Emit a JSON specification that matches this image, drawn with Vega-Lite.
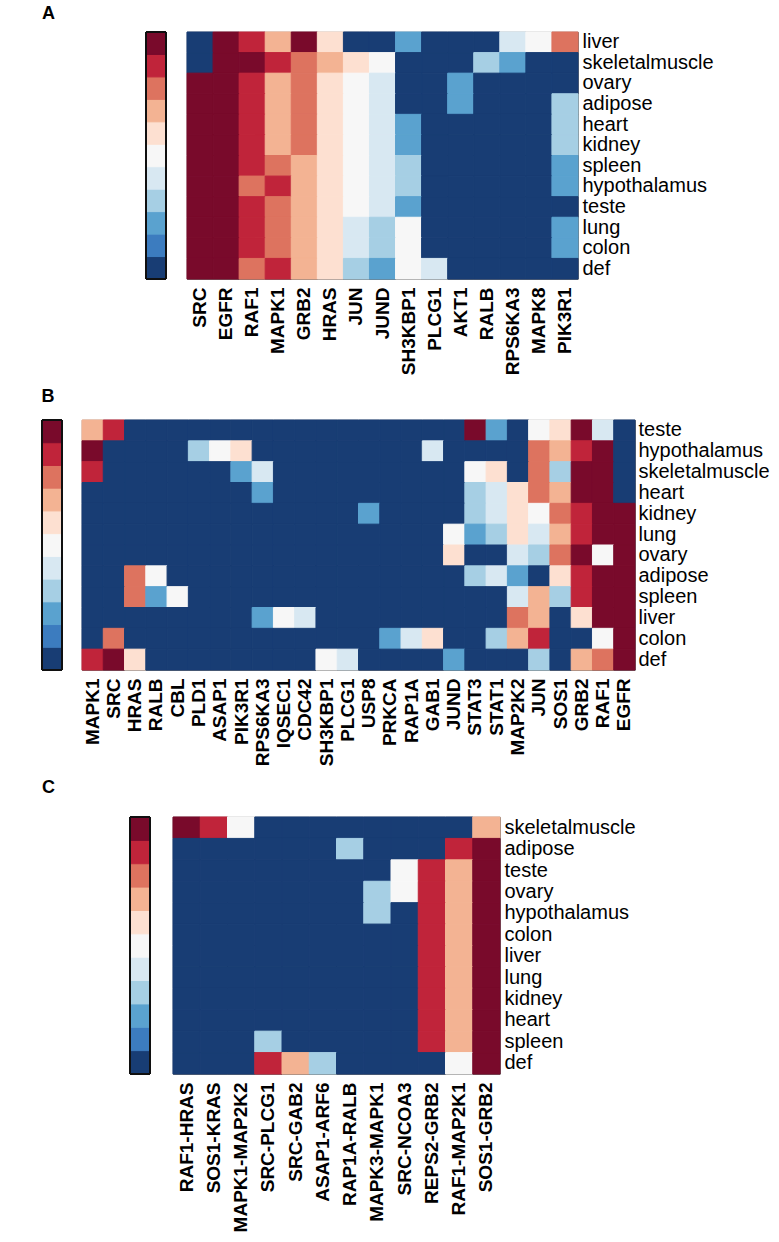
{
  "$schema": "https://vega.github.io/schema/vega-lite/v6.json",
  "padding": {"left": 41, "top": 5, "right": 0, "bottom": 0},
  "background": "white",
  "config": {
    "font": "Liberation Sans",
    "view": {"stroke": null},
    "axisX": {"orient": "bottom", "labelAngle": -90, "labelFontWeight": "bold", "labelFontSize": 19, "labelColor": "#000", "ticks": false, "domain": false, "labelPadding": 8, "title": null, "labelLimit": 300, "labelOverlap": false},
    "axisY": {"orient": "right", "labelFontSize": 20, "labelColor": "#000", "ticks": false, "domain": false, "labelPadding": 4, "title": null, "labelLimit": 300, "labelOverlap": false},
    "title": {"fontSize": 18, "fontWeight": "bold", "color": "#000", "anchor": "start"}
  },
  "datasets": {
    "bar": [{"v":0},{"v":1},{"v":2},{"v":3},{"v":4},{"v":5},{"v":6},{"v":7},{"v":8},{"v":9},{"v":10}],
    "a": [
{"t":"liver","g":"SRC","v":0},{"t":"liver","g":"EGFR","v":10},{"t":"liver","g":"RAF1","v":9},{"t":"liver","g":"MAPK1","v":7},{"t":"liver","g":"GRB2","v":10},{"t":"liver","g":"HRAS","v":6},{"t":"liver","g":"JUN","v":0},{"t":"liver","g":"JUND","v":0},{"t":"liver","g":"SH3KBP1","v":2},{"t":"liver","g":"PLCG1","v":0},{"t":"liver","g":"AKT1","v":0},{"t":"liver","g":"RALB","v":0},{"t":"liver","g":"RPS6KA3","v":4},{"t":"liver","g":"MAPK8","v":5},{"t":"liver","g":"PIK3R1","v":8},
{"t":"skeletalmuscle","g":"SRC","v":0},{"t":"skeletalmuscle","g":"EGFR","v":10},{"t":"skeletalmuscle","g":"RAF1","v":10},{"t":"skeletalmuscle","g":"MAPK1","v":9},{"t":"skeletalmuscle","g":"GRB2","v":8},{"t":"skeletalmuscle","g":"HRAS","v":7},{"t":"skeletalmuscle","g":"JUN","v":6},{"t":"skeletalmuscle","g":"JUND","v":5},{"t":"skeletalmuscle","g":"SH3KBP1","v":0},{"t":"skeletalmuscle","g":"PLCG1","v":0},{"t":"skeletalmuscle","g":"AKT1","v":0},{"t":"skeletalmuscle","g":"RALB","v":3},{"t":"skeletalmuscle","g":"RPS6KA3","v":2},{"t":"skeletalmuscle","g":"MAPK8","v":0},{"t":"skeletalmuscle","g":"PIK3R1","v":0},
{"t":"ovary","g":"SRC","v":10},{"t":"ovary","g":"EGFR","v":10},{"t":"ovary","g":"RAF1","v":9},{"t":"ovary","g":"MAPK1","v":7},{"t":"ovary","g":"GRB2","v":8},{"t":"ovary","g":"HRAS","v":6},{"t":"ovary","g":"JUN","v":5},{"t":"ovary","g":"JUND","v":4},{"t":"ovary","g":"SH3KBP1","v":0},{"t":"ovary","g":"PLCG1","v":0},{"t":"ovary","g":"AKT1","v":2},{"t":"ovary","g":"RALB","v":0},{"t":"ovary","g":"RPS6KA3","v":0},{"t":"ovary","g":"MAPK8","v":0},{"t":"ovary","g":"PIK3R1","v":0},
{"t":"adipose","g":"SRC","v":10},{"t":"adipose","g":"EGFR","v":10},{"t":"adipose","g":"RAF1","v":9},{"t":"adipose","g":"MAPK1","v":7},{"t":"adipose","g":"GRB2","v":8},{"t":"adipose","g":"HRAS","v":6},{"t":"adipose","g":"JUN","v":5},{"t":"adipose","g":"JUND","v":4},{"t":"adipose","g":"SH3KBP1","v":0},{"t":"adipose","g":"PLCG1","v":0},{"t":"adipose","g":"AKT1","v":2},{"t":"adipose","g":"RALB","v":0},{"t":"adipose","g":"RPS6KA3","v":0},{"t":"adipose","g":"MAPK8","v":0},{"t":"adipose","g":"PIK3R1","v":3},
{"t":"heart","g":"SRC","v":10},{"t":"heart","g":"EGFR","v":10},{"t":"heart","g":"RAF1","v":9},{"t":"heart","g":"MAPK1","v":7},{"t":"heart","g":"GRB2","v":8},{"t":"heart","g":"HRAS","v":6},{"t":"heart","g":"JUN","v":5},{"t":"heart","g":"JUND","v":4},{"t":"heart","g":"SH3KBP1","v":2},{"t":"heart","g":"PLCG1","v":0},{"t":"heart","g":"AKT1","v":0},{"t":"heart","g":"RALB","v":0},{"t":"heart","g":"RPS6KA3","v":0},{"t":"heart","g":"MAPK8","v":0},{"t":"heart","g":"PIK3R1","v":3},
{"t":"kidney","g":"SRC","v":10},{"t":"kidney","g":"EGFR","v":10},{"t":"kidney","g":"RAF1","v":9},{"t":"kidney","g":"MAPK1","v":7},{"t":"kidney","g":"GRB2","v":8},{"t":"kidney","g":"HRAS","v":6},{"t":"kidney","g":"JUN","v":5},{"t":"kidney","g":"JUND","v":4},{"t":"kidney","g":"SH3KBP1","v":2},{"t":"kidney","g":"PLCG1","v":0},{"t":"kidney","g":"AKT1","v":0},{"t":"kidney","g":"RALB","v":0},{"t":"kidney","g":"RPS6KA3","v":0},{"t":"kidney","g":"MAPK8","v":0},{"t":"kidney","g":"PIK3R1","v":3},
{"t":"spleen","g":"SRC","v":10},{"t":"spleen","g":"EGFR","v":10},{"t":"spleen","g":"RAF1","v":9},{"t":"spleen","g":"MAPK1","v":8},{"t":"spleen","g":"GRB2","v":7},{"t":"spleen","g":"HRAS","v":6},{"t":"spleen","g":"JUN","v":5},{"t":"spleen","g":"JUND","v":4},{"t":"spleen","g":"SH3KBP1","v":3},{"t":"spleen","g":"PLCG1","v":0},{"t":"spleen","g":"AKT1","v":0},{"t":"spleen","g":"RALB","v":0},{"t":"spleen","g":"RPS6KA3","v":0},{"t":"spleen","g":"MAPK8","v":0},{"t":"spleen","g":"PIK3R1","v":2},
{"t":"hypothalamus","g":"SRC","v":10},{"t":"hypothalamus","g":"EGFR","v":10},{"t":"hypothalamus","g":"RAF1","v":8},{"t":"hypothalamus","g":"MAPK1","v":9},{"t":"hypothalamus","g":"GRB2","v":7},{"t":"hypothalamus","g":"HRAS","v":6},{"t":"hypothalamus","g":"JUN","v":5},{"t":"hypothalamus","g":"JUND","v":4},{"t":"hypothalamus","g":"SH3KBP1","v":3},{"t":"hypothalamus","g":"PLCG1","v":0},{"t":"hypothalamus","g":"AKT1","v":0},{"t":"hypothalamus","g":"RALB","v":0},{"t":"hypothalamus","g":"RPS6KA3","v":0},{"t":"hypothalamus","g":"MAPK8","v":0},{"t":"hypothalamus","g":"PIK3R1","v":2},
{"t":"teste","g":"SRC","v":10},{"t":"teste","g":"EGFR","v":10},{"t":"teste","g":"RAF1","v":9},{"t":"teste","g":"MAPK1","v":8},{"t":"teste","g":"GRB2","v":7},{"t":"teste","g":"HRAS","v":6},{"t":"teste","g":"JUN","v":5},{"t":"teste","g":"JUND","v":4},{"t":"teste","g":"SH3KBP1","v":2},{"t":"teste","g":"PLCG1","v":0},{"t":"teste","g":"AKT1","v":0},{"t":"teste","g":"RALB","v":0},{"t":"teste","g":"RPS6KA3","v":0},{"t":"teste","g":"MAPK8","v":0},{"t":"teste","g":"PIK3R1","v":0},
{"t":"lung","g":"SRC","v":10},{"t":"lung","g":"EGFR","v":10},{"t":"lung","g":"RAF1","v":9},{"t":"lung","g":"MAPK1","v":8},{"t":"lung","g":"GRB2","v":7},{"t":"lung","g":"HRAS","v":6},{"t":"lung","g":"JUN","v":4},{"t":"lung","g":"JUND","v":3},{"t":"lung","g":"SH3KBP1","v":5},{"t":"lung","g":"PLCG1","v":0},{"t":"lung","g":"AKT1","v":0},{"t":"lung","g":"RALB","v":0},{"t":"lung","g":"RPS6KA3","v":0},{"t":"lung","g":"MAPK8","v":0},{"t":"lung","g":"PIK3R1","v":2},
{"t":"colon","g":"SRC","v":10},{"t":"colon","g":"EGFR","v":10},{"t":"colon","g":"RAF1","v":9},{"t":"colon","g":"MAPK1","v":8},{"t":"colon","g":"GRB2","v":7},{"t":"colon","g":"HRAS","v":6},{"t":"colon","g":"JUN","v":4},{"t":"colon","g":"JUND","v":3},{"t":"colon","g":"SH3KBP1","v":5},{"t":"colon","g":"PLCG1","v":0},{"t":"colon","g":"AKT1","v":0},{"t":"colon","g":"RALB","v":0},{"t":"colon","g":"RPS6KA3","v":0},{"t":"colon","g":"MAPK8","v":0},{"t":"colon","g":"PIK3R1","v":2},
{"t":"def","g":"SRC","v":10},{"t":"def","g":"EGFR","v":10},{"t":"def","g":"RAF1","v":8},{"t":"def","g":"MAPK1","v":9},{"t":"def","g":"GRB2","v":7},{"t":"def","g":"HRAS","v":6},{"t":"def","g":"JUN","v":3},{"t":"def","g":"JUND","v":2},{"t":"def","g":"SH3KBP1","v":5},{"t":"def","g":"PLCG1","v":4},{"t":"def","g":"AKT1","v":0},{"t":"def","g":"RALB","v":0},{"t":"def","g":"RPS6KA3","v":0},{"t":"def","g":"MAPK8","v":0},{"t":"def","g":"PIK3R1","v":0}
    ],
    "b": [
{"t":"teste","g":"MAPK1","v":7},{"t":"teste","g":"SRC","v":9},{"t":"teste","g":"HRAS","v":0},{"t":"teste","g":"RALB","v":0},{"t":"teste","g":"CBL","v":0},{"t":"teste","g":"PLD1","v":0},{"t":"teste","g":"ASAP1","v":0},{"t":"teste","g":"PIK3R1","v":0},{"t":"teste","g":"RPS6KA3","v":0},{"t":"teste","g":"IQSEC1","v":0},{"t":"teste","g":"CDC42","v":0},{"t":"teste","g":"SH3KBP1","v":0},{"t":"teste","g":"PLCG1","v":0},{"t":"teste","g":"USP8","v":0},{"t":"teste","g":"PRKCA","v":0},{"t":"teste","g":"RAP1A","v":0},{"t":"teste","g":"GAB1","v":0},{"t":"teste","g":"JUND","v":0},{"t":"teste","g":"STAT3","v":10},{"t":"teste","g":"STAT1","v":2},{"t":"teste","g":"MAP2K2","v":0},{"t":"teste","g":"JUN","v":5},{"t":"teste","g":"SOS1","v":6},{"t":"teste","g":"GRB2","v":10},{"t":"teste","g":"RAF1","v":4},{"t":"teste","g":"EGFR","v":0},
{"t":"hypothalamus","g":"MAPK1","v":10},{"t":"hypothalamus","g":"SRC","v":0},{"t":"hypothalamus","g":"HRAS","v":0},{"t":"hypothalamus","g":"RALB","v":0},{"t":"hypothalamus","g":"CBL","v":0},{"t":"hypothalamus","g":"PLD1","v":3},{"t":"hypothalamus","g":"ASAP1","v":5},{"t":"hypothalamus","g":"PIK3R1","v":6},{"t":"hypothalamus","g":"RPS6KA3","v":0},{"t":"hypothalamus","g":"IQSEC1","v":0},{"t":"hypothalamus","g":"CDC42","v":0},{"t":"hypothalamus","g":"SH3KBP1","v":0},{"t":"hypothalamus","g":"PLCG1","v":0},{"t":"hypothalamus","g":"USP8","v":0},{"t":"hypothalamus","g":"PRKCA","v":0},{"t":"hypothalamus","g":"RAP1A","v":0},{"t":"hypothalamus","g":"GAB1","v":4},{"t":"hypothalamus","g":"JUND","v":0},{"t":"hypothalamus","g":"STAT3","v":0},{"t":"hypothalamus","g":"STAT1","v":0},{"t":"hypothalamus","g":"MAP2K2","v":0},{"t":"hypothalamus","g":"JUN","v":8},{"t":"hypothalamus","g":"SOS1","v":7},{"t":"hypothalamus","g":"GRB2","v":9},{"t":"hypothalamus","g":"RAF1","v":10},{"t":"hypothalamus","g":"EGFR","v":0},
{"t":"skeletalmuscle","g":"MAPK1","v":9},{"t":"skeletalmuscle","g":"SRC","v":0},{"t":"skeletalmuscle","g":"HRAS","v":0},{"t":"skeletalmuscle","g":"RALB","v":0},{"t":"skeletalmuscle","g":"CBL","v":0},{"t":"skeletalmuscle","g":"PLD1","v":0},{"t":"skeletalmuscle","g":"ASAP1","v":0},{"t":"skeletalmuscle","g":"PIK3R1","v":2},{"t":"skeletalmuscle","g":"RPS6KA3","v":4},{"t":"skeletalmuscle","g":"IQSEC1","v":0},{"t":"skeletalmuscle","g":"CDC42","v":0},{"t":"skeletalmuscle","g":"SH3KBP1","v":0},{"t":"skeletalmuscle","g":"PLCG1","v":0},{"t":"skeletalmuscle","g":"USP8","v":0},{"t":"skeletalmuscle","g":"PRKCA","v":0},{"t":"skeletalmuscle","g":"RAP1A","v":0},{"t":"skeletalmuscle","g":"GAB1","v":0},{"t":"skeletalmuscle","g":"JUND","v":0},{"t":"skeletalmuscle","g":"STAT3","v":5},{"t":"skeletalmuscle","g":"STAT1","v":6},{"t":"skeletalmuscle","g":"MAP2K2","v":0},{"t":"skeletalmuscle","g":"JUN","v":8},{"t":"skeletalmuscle","g":"SOS1","v":3},{"t":"skeletalmuscle","g":"GRB2","v":10},{"t":"skeletalmuscle","g":"RAF1","v":10},{"t":"skeletalmuscle","g":"EGFR","v":0},
{"t":"heart","g":"MAPK1","v":0},{"t":"heart","g":"SRC","v":0},{"t":"heart","g":"HRAS","v":0},{"t":"heart","g":"RALB","v":0},{"t":"heart","g":"CBL","v":0},{"t":"heart","g":"PLD1","v":0},{"t":"heart","g":"ASAP1","v":0},{"t":"heart","g":"PIK3R1","v":0},{"t":"heart","g":"RPS6KA3","v":2},{"t":"heart","g":"IQSEC1","v":0},{"t":"heart","g":"CDC42","v":0},{"t":"heart","g":"SH3KBP1","v":0},{"t":"heart","g":"PLCG1","v":0},{"t":"heart","g":"USP8","v":0},{"t":"heart","g":"PRKCA","v":0},{"t":"heart","g":"RAP1A","v":0},{"t":"heart","g":"GAB1","v":0},{"t":"heart","g":"JUND","v":0},{"t":"heart","g":"STAT3","v":3},{"t":"heart","g":"STAT1","v":4},{"t":"heart","g":"MAP2K2","v":6},{"t":"heart","g":"JUN","v":8},{"t":"heart","g":"SOS1","v":7},{"t":"heart","g":"GRB2","v":10},{"t":"heart","g":"RAF1","v":10},{"t":"heart","g":"EGFR","v":0},
{"t":"kidney","g":"MAPK1","v":0},{"t":"kidney","g":"SRC","v":0},{"t":"kidney","g":"HRAS","v":0},{"t":"kidney","g":"RALB","v":0},{"t":"kidney","g":"CBL","v":0},{"t":"kidney","g":"PLD1","v":0},{"t":"kidney","g":"ASAP1","v":0},{"t":"kidney","g":"PIK3R1","v":0},{"t":"kidney","g":"RPS6KA3","v":0},{"t":"kidney","g":"IQSEC1","v":0},{"t":"kidney","g":"CDC42","v":0},{"t":"kidney","g":"SH3KBP1","v":0},{"t":"kidney","g":"PLCG1","v":0},{"t":"kidney","g":"USP8","v":2},{"t":"kidney","g":"PRKCA","v":0},{"t":"kidney","g":"RAP1A","v":0},{"t":"kidney","g":"GAB1","v":0},{"t":"kidney","g":"JUND","v":0},{"t":"kidney","g":"STAT3","v":3},{"t":"kidney","g":"STAT1","v":4},{"t":"kidney","g":"MAP2K2","v":6},{"t":"kidney","g":"JUN","v":5},{"t":"kidney","g":"SOS1","v":8},{"t":"kidney","g":"GRB2","v":9},{"t":"kidney","g":"RAF1","v":10},{"t":"kidney","g":"EGFR","v":10},
{"t":"lung","g":"MAPK1","v":0},{"t":"lung","g":"SRC","v":0},{"t":"lung","g":"HRAS","v":0},{"t":"lung","g":"RALB","v":0},{"t":"lung","g":"CBL","v":0},{"t":"lung","g":"PLD1","v":0},{"t":"lung","g":"ASAP1","v":0},{"t":"lung","g":"PIK3R1","v":0},{"t":"lung","g":"RPS6KA3","v":0},{"t":"lung","g":"IQSEC1","v":0},{"t":"lung","g":"CDC42","v":0},{"t":"lung","g":"SH3KBP1","v":0},{"t":"lung","g":"PLCG1","v":0},{"t":"lung","g":"USP8","v":0},{"t":"lung","g":"PRKCA","v":0},{"t":"lung","g":"RAP1A","v":0},{"t":"lung","g":"GAB1","v":0},{"t":"lung","g":"JUND","v":5},{"t":"lung","g":"STAT3","v":2},{"t":"lung","g":"STAT1","v":3},{"t":"lung","g":"MAP2K2","v":6},{"t":"lung","g":"JUN","v":4},{"t":"lung","g":"SOS1","v":7},{"t":"lung","g":"GRB2","v":9},{"t":"lung","g":"RAF1","v":10},{"t":"lung","g":"EGFR","v":10},
{"t":"ovary","g":"MAPK1","v":0},{"t":"ovary","g":"SRC","v":0},{"t":"ovary","g":"HRAS","v":0},{"t":"ovary","g":"RALB","v":0},{"t":"ovary","g":"CBL","v":0},{"t":"ovary","g":"PLD1","v":0},{"t":"ovary","g":"ASAP1","v":0},{"t":"ovary","g":"PIK3R1","v":0},{"t":"ovary","g":"RPS6KA3","v":0},{"t":"ovary","g":"IQSEC1","v":0},{"t":"ovary","g":"CDC42","v":0},{"t":"ovary","g":"SH3KBP1","v":0},{"t":"ovary","g":"PLCG1","v":0},{"t":"ovary","g":"USP8","v":0},{"t":"ovary","g":"PRKCA","v":0},{"t":"ovary","g":"RAP1A","v":0},{"t":"ovary","g":"GAB1","v":0},{"t":"ovary","g":"JUND","v":6},{"t":"ovary","g":"STAT3","v":0},{"t":"ovary","g":"STAT1","v":0},{"t":"ovary","g":"MAP2K2","v":4},{"t":"ovary","g":"JUN","v":3},{"t":"ovary","g":"SOS1","v":8},{"t":"ovary","g":"GRB2","v":10},{"t":"ovary","g":"RAF1","v":5},{"t":"ovary","g":"EGFR","v":10},
{"t":"adipose","g":"MAPK1","v":0},{"t":"adipose","g":"SRC","v":0},{"t":"adipose","g":"HRAS","v":8},{"t":"adipose","g":"RALB","v":5},{"t":"adipose","g":"CBL","v":0},{"t":"adipose","g":"PLD1","v":0},{"t":"adipose","g":"ASAP1","v":0},{"t":"adipose","g":"PIK3R1","v":0},{"t":"adipose","g":"RPS6KA3","v":0},{"t":"adipose","g":"IQSEC1","v":0},{"t":"adipose","g":"CDC42","v":0},{"t":"adipose","g":"SH3KBP1","v":0},{"t":"adipose","g":"PLCG1","v":0},{"t":"adipose","g":"USP8","v":0},{"t":"adipose","g":"PRKCA","v":0},{"t":"adipose","g":"RAP1A","v":0},{"t":"adipose","g":"GAB1","v":0},{"t":"adipose","g":"JUND","v":0},{"t":"adipose","g":"STAT3","v":3},{"t":"adipose","g":"STAT1","v":4},{"t":"adipose","g":"MAP2K2","v":2},{"t":"adipose","g":"JUN","v":0},{"t":"adipose","g":"SOS1","v":6},{"t":"adipose","g":"GRB2","v":9},{"t":"adipose","g":"RAF1","v":10},{"t":"adipose","g":"EGFR","v":10},
{"t":"spleen","g":"MAPK1","v":0},{"t":"spleen","g":"SRC","v":0},{"t":"spleen","g":"HRAS","v":8},{"t":"spleen","g":"RALB","v":2},{"t":"spleen","g":"CBL","v":5},{"t":"spleen","g":"PLD1","v":0},{"t":"spleen","g":"ASAP1","v":0},{"t":"spleen","g":"PIK3R1","v":0},{"t":"spleen","g":"RPS6KA3","v":0},{"t":"spleen","g":"IQSEC1","v":0},{"t":"spleen","g":"CDC42","v":0},{"t":"spleen","g":"SH3KBP1","v":0},{"t":"spleen","g":"PLCG1","v":0},{"t":"spleen","g":"USP8","v":0},{"t":"spleen","g":"PRKCA","v":0},{"t":"spleen","g":"RAP1A","v":0},{"t":"spleen","g":"GAB1","v":0},{"t":"spleen","g":"JUND","v":0},{"t":"spleen","g":"STAT3","v":0},{"t":"spleen","g":"STAT1","v":0},{"t":"spleen","g":"MAP2K2","v":4},{"t":"spleen","g":"JUN","v":7},{"t":"spleen","g":"SOS1","v":3},{"t":"spleen","g":"GRB2","v":9},{"t":"spleen","g":"RAF1","v":10},{"t":"spleen","g":"EGFR","v":10},
{"t":"liver","g":"MAPK1","v":0},{"t":"liver","g":"SRC","v":0},{"t":"liver","g":"HRAS","v":0},{"t":"liver","g":"RALB","v":0},{"t":"liver","g":"CBL","v":0},{"t":"liver","g":"PLD1","v":0},{"t":"liver","g":"ASAP1","v":0},{"t":"liver","g":"PIK3R1","v":0},{"t":"liver","g":"RPS6KA3","v":2},{"t":"liver","g":"IQSEC1","v":5},{"t":"liver","g":"CDC42","v":4},{"t":"liver","g":"SH3KBP1","v":0},{"t":"liver","g":"PLCG1","v":0},{"t":"liver","g":"USP8","v":0},{"t":"liver","g":"PRKCA","v":0},{"t":"liver","g":"RAP1A","v":0},{"t":"liver","g":"GAB1","v":0},{"t":"liver","g":"JUND","v":0},{"t":"liver","g":"STAT3","v":0},{"t":"liver","g":"STAT1","v":0},{"t":"liver","g":"MAP2K2","v":8},{"t":"liver","g":"JUN","v":7},{"t":"liver","g":"SOS1","v":0},{"t":"liver","g":"GRB2","v":6},{"t":"liver","g":"RAF1","v":10},{"t":"liver","g":"EGFR","v":10},
{"t":"colon","g":"MAPK1","v":0},{"t":"colon","g":"SRC","v":8},{"t":"colon","g":"HRAS","v":0},{"t":"colon","g":"RALB","v":0},{"t":"colon","g":"CBL","v":0},{"t":"colon","g":"PLD1","v":0},{"t":"colon","g":"ASAP1","v":0},{"t":"colon","g":"PIK3R1","v":0},{"t":"colon","g":"RPS6KA3","v":0},{"t":"colon","g":"IQSEC1","v":0},{"t":"colon","g":"CDC42","v":0},{"t":"colon","g":"SH3KBP1","v":0},{"t":"colon","g":"PLCG1","v":0},{"t":"colon","g":"USP8","v":0},{"t":"colon","g":"PRKCA","v":2},{"t":"colon","g":"RAP1A","v":4},{"t":"colon","g":"GAB1","v":6},{"t":"colon","g":"JUND","v":0},{"t":"colon","g":"STAT3","v":0},{"t":"colon","g":"STAT1","v":3},{"t":"colon","g":"MAP2K2","v":7},{"t":"colon","g":"JUN","v":9},{"t":"colon","g":"SOS1","v":0},{"t":"colon","g":"GRB2","v":0},{"t":"colon","g":"RAF1","v":5},{"t":"colon","g":"EGFR","v":10},
{"t":"def","g":"MAPK1","v":9},{"t":"def","g":"SRC","v":10},{"t":"def","g":"HRAS","v":6},{"t":"def","g":"RALB","v":0},{"t":"def","g":"CBL","v":0},{"t":"def","g":"PLD1","v":0},{"t":"def","g":"ASAP1","v":0},{"t":"def","g":"PIK3R1","v":0},{"t":"def","g":"RPS6KA3","v":0},{"t":"def","g":"IQSEC1","v":0},{"t":"def","g":"CDC42","v":0},{"t":"def","g":"SH3KBP1","v":5},{"t":"def","g":"PLCG1","v":4},{"t":"def","g":"USP8","v":0},{"t":"def","g":"PRKCA","v":0},{"t":"def","g":"RAP1A","v":0},{"t":"def","g":"GAB1","v":0},{"t":"def","g":"JUND","v":2},{"t":"def","g":"STAT3","v":0},{"t":"def","g":"STAT1","v":0},{"t":"def","g":"MAP2K2","v":0},{"t":"def","g":"JUN","v":3},{"t":"def","g":"SOS1","v":0},{"t":"def","g":"GRB2","v":7},{"t":"def","g":"RAF1","v":8},{"t":"def","g":"EGFR","v":10}
    ],
    "c": [
{"t":"skeletalmuscle","g":"RAF1-HRAS","v":10},{"t":"skeletalmuscle","g":"SOS1-KRAS","v":9},{"t":"skeletalmuscle","g":"MAPK1-MAP2K2","v":5},{"t":"skeletalmuscle","g":"SRC-PLCG1","v":0},{"t":"skeletalmuscle","g":"SRC-GAB2","v":0},{"t":"skeletalmuscle","g":"ASAP1-ARF6","v":0},{"t":"skeletalmuscle","g":"RAP1A-RALB","v":0},{"t":"skeletalmuscle","g":"MAPK3-MAPK1","v":0},{"t":"skeletalmuscle","g":"SRC-NCOA3","v":0},{"t":"skeletalmuscle","g":"REPS2-GRB2","v":0},{"t":"skeletalmuscle","g":"RAF1-MAP2K1","v":0},{"t":"skeletalmuscle","g":"SOS1-GRB2","v":7},
{"t":"adipose","g":"RAF1-HRAS","v":0},{"t":"adipose","g":"SOS1-KRAS","v":0},{"t":"adipose","g":"MAPK1-MAP2K2","v":0},{"t":"adipose","g":"SRC-PLCG1","v":0},{"t":"adipose","g":"SRC-GAB2","v":0},{"t":"adipose","g":"ASAP1-ARF6","v":0},{"t":"adipose","g":"RAP1A-RALB","v":3},{"t":"adipose","g":"MAPK3-MAPK1","v":0},{"t":"adipose","g":"SRC-NCOA3","v":0},{"t":"adipose","g":"REPS2-GRB2","v":0},{"t":"adipose","g":"RAF1-MAP2K1","v":9},{"t":"adipose","g":"SOS1-GRB2","v":10},
{"t":"teste","g":"RAF1-HRAS","v":0},{"t":"teste","g":"SOS1-KRAS","v":0},{"t":"teste","g":"MAPK1-MAP2K2","v":0},{"t":"teste","g":"SRC-PLCG1","v":0},{"t":"teste","g":"SRC-GAB2","v":0},{"t":"teste","g":"ASAP1-ARF6","v":0},{"t":"teste","g":"RAP1A-RALB","v":0},{"t":"teste","g":"MAPK3-MAPK1","v":0},{"t":"teste","g":"SRC-NCOA3","v":5},{"t":"teste","g":"REPS2-GRB2","v":9},{"t":"teste","g":"RAF1-MAP2K1","v":7},{"t":"teste","g":"SOS1-GRB2","v":10},
{"t":"ovary","g":"RAF1-HRAS","v":0},{"t":"ovary","g":"SOS1-KRAS","v":0},{"t":"ovary","g":"MAPK1-MAP2K2","v":0},{"t":"ovary","g":"SRC-PLCG1","v":0},{"t":"ovary","g":"SRC-GAB2","v":0},{"t":"ovary","g":"ASAP1-ARF6","v":0},{"t":"ovary","g":"RAP1A-RALB","v":0},{"t":"ovary","g":"MAPK3-MAPK1","v":3},{"t":"ovary","g":"SRC-NCOA3","v":5},{"t":"ovary","g":"REPS2-GRB2","v":9},{"t":"ovary","g":"RAF1-MAP2K1","v":7},{"t":"ovary","g":"SOS1-GRB2","v":10},
{"t":"hypothalamus","g":"RAF1-HRAS","v":0},{"t":"hypothalamus","g":"SOS1-KRAS","v":0},{"t":"hypothalamus","g":"MAPK1-MAP2K2","v":0},{"t":"hypothalamus","g":"SRC-PLCG1","v":0},{"t":"hypothalamus","g":"SRC-GAB2","v":0},{"t":"hypothalamus","g":"ASAP1-ARF6","v":0},{"t":"hypothalamus","g":"RAP1A-RALB","v":0},{"t":"hypothalamus","g":"MAPK3-MAPK1","v":3},{"t":"hypothalamus","g":"SRC-NCOA3","v":0},{"t":"hypothalamus","g":"REPS2-GRB2","v":9},{"t":"hypothalamus","g":"RAF1-MAP2K1","v":7},{"t":"hypothalamus","g":"SOS1-GRB2","v":10},
{"t":"colon","g":"RAF1-HRAS","v":0},{"t":"colon","g":"SOS1-KRAS","v":0},{"t":"colon","g":"MAPK1-MAP2K2","v":0},{"t":"colon","g":"SRC-PLCG1","v":0},{"t":"colon","g":"SRC-GAB2","v":0},{"t":"colon","g":"ASAP1-ARF6","v":0},{"t":"colon","g":"RAP1A-RALB","v":0},{"t":"colon","g":"MAPK3-MAPK1","v":0},{"t":"colon","g":"SRC-NCOA3","v":0},{"t":"colon","g":"REPS2-GRB2","v":9},{"t":"colon","g":"RAF1-MAP2K1","v":7},{"t":"colon","g":"SOS1-GRB2","v":10},
{"t":"liver","g":"RAF1-HRAS","v":0},{"t":"liver","g":"SOS1-KRAS","v":0},{"t":"liver","g":"MAPK1-MAP2K2","v":0},{"t":"liver","g":"SRC-PLCG1","v":0},{"t":"liver","g":"SRC-GAB2","v":0},{"t":"liver","g":"ASAP1-ARF6","v":0},{"t":"liver","g":"RAP1A-RALB","v":0},{"t":"liver","g":"MAPK3-MAPK1","v":0},{"t":"liver","g":"SRC-NCOA3","v":0},{"t":"liver","g":"REPS2-GRB2","v":9},{"t":"liver","g":"RAF1-MAP2K1","v":7},{"t":"liver","g":"SOS1-GRB2","v":10},
{"t":"lung","g":"RAF1-HRAS","v":0},{"t":"lung","g":"SOS1-KRAS","v":0},{"t":"lung","g":"MAPK1-MAP2K2","v":0},{"t":"lung","g":"SRC-PLCG1","v":0},{"t":"lung","g":"SRC-GAB2","v":0},{"t":"lung","g":"ASAP1-ARF6","v":0},{"t":"lung","g":"RAP1A-RALB","v":0},{"t":"lung","g":"MAPK3-MAPK1","v":0},{"t":"lung","g":"SRC-NCOA3","v":0},{"t":"lung","g":"REPS2-GRB2","v":9},{"t":"lung","g":"RAF1-MAP2K1","v":7},{"t":"lung","g":"SOS1-GRB2","v":10},
{"t":"kidney","g":"RAF1-HRAS","v":0},{"t":"kidney","g":"SOS1-KRAS","v":0},{"t":"kidney","g":"MAPK1-MAP2K2","v":0},{"t":"kidney","g":"SRC-PLCG1","v":0},{"t":"kidney","g":"SRC-GAB2","v":0},{"t":"kidney","g":"ASAP1-ARF6","v":0},{"t":"kidney","g":"RAP1A-RALB","v":0},{"t":"kidney","g":"MAPK3-MAPK1","v":0},{"t":"kidney","g":"SRC-NCOA3","v":0},{"t":"kidney","g":"REPS2-GRB2","v":9},{"t":"kidney","g":"RAF1-MAP2K1","v":7},{"t":"kidney","g":"SOS1-GRB2","v":10},
{"t":"heart","g":"RAF1-HRAS","v":0},{"t":"heart","g":"SOS1-KRAS","v":0},{"t":"heart","g":"MAPK1-MAP2K2","v":0},{"t":"heart","g":"SRC-PLCG1","v":0},{"t":"heart","g":"SRC-GAB2","v":0},{"t":"heart","g":"ASAP1-ARF6","v":0},{"t":"heart","g":"RAP1A-RALB","v":0},{"t":"heart","g":"MAPK3-MAPK1","v":0},{"t":"heart","g":"SRC-NCOA3","v":0},{"t":"heart","g":"REPS2-GRB2","v":9},{"t":"heart","g":"RAF1-MAP2K1","v":7},{"t":"heart","g":"SOS1-GRB2","v":10},
{"t":"spleen","g":"RAF1-HRAS","v":0},{"t":"spleen","g":"SOS1-KRAS","v":0},{"t":"spleen","g":"MAPK1-MAP2K2","v":0},{"t":"spleen","g":"SRC-PLCG1","v":3},{"t":"spleen","g":"SRC-GAB2","v":0},{"t":"spleen","g":"ASAP1-ARF6","v":0},{"t":"spleen","g":"RAP1A-RALB","v":0},{"t":"spleen","g":"MAPK3-MAPK1","v":0},{"t":"spleen","g":"SRC-NCOA3","v":0},{"t":"spleen","g":"REPS2-GRB2","v":9},{"t":"spleen","g":"RAF1-MAP2K1","v":7},{"t":"spleen","g":"SOS1-GRB2","v":10},
{"t":"def","g":"RAF1-HRAS","v":0},{"t":"def","g":"SOS1-KRAS","v":0},{"t":"def","g":"MAPK1-MAP2K2","v":0},{"t":"def","g":"SRC-PLCG1","v":9},{"t":"def","g":"SRC-GAB2","v":7},{"t":"def","g":"ASAP1-ARF6","v":3},{"t":"def","g":"RAP1A-RALB","v":0},{"t":"def","g":"MAPK3-MAPK1","v":0},{"t":"def","g":"SRC-NCOA3","v":0},{"t":"def","g":"REPS2-GRB2","v":0},{"t":"def","g":"RAF1-MAP2K1","v":5},{"t":"def","g":"SOS1-GRB2","v":10}
    ]
  },
  "spacing": 12,
  "vconcat": [
    {
      "title": {"text": "A", "offset": 8},
      "spacing": 19,
      "hconcat": [
        {
          "data": {"name": "bar"},
          "width": 124, "height": 247,
          "layer": [
            {
              "mark": {"type": "rect", "strokeWidth": 1},
              "encoding": {
                "x": {"datum": "colorbar", "type": "nominal", "axis": null, "scale": {"paddingInner": 0.6154, "paddingOuter": 1, "align": 1}},
                "y": {"field": "v", "type": "ordinal", "sort": "descending", "axis": null},
                "color": {"field": "v", "type": "ordinal", "legend": null, "scale": {"domain": [0,1,2,3,4,5,6,7,8,9,10], "range": ["#183d74","#3c7cbf","#5aa2cf","#a6cfe4","#d8e8f2","#f7f7f7","#fde0d1","#f3b393","#dd735f","#c0243a","#790a2b"]}},
                "stroke": {"field": "v", "type": "ordinal", "legend": null, "scale": {"domain": [0,1,2,3,4,5,6,7,8,9,10], "range": ["#183d74","#3c7cbf","#5aa2cf","#a6cfe4","#d8e8f2","#f7f7f7","#fde0d1","#f3b393","#dd735f","#c0243a","#790a2b"]}}
              }
            },
            {
              "mark": {"type": "rect", "fillOpacity": 0, "stroke": "#111", "strokeWidth": 1},
              "encoding": {
                "x": {"datum": "colorbar", "type": "nominal", "axis": null}
              }
            }
          ]
        },
        {
          "data": {"name": "a"},
          "width": 391, "height": 247,
          "view": {"stroke": "#222", "strokeWidth": 0.8},
          "mark": {"type": "rect", "strokeWidth": 1},
          "encoding": {
            "x": {"field": "g", "type": "nominal", "sort": ["SRC","EGFR","RAF1","MAPK1","GRB2","HRAS","JUN","JUND","SH3KBP1","PLCG1","AKT1","RALB","RPS6KA3","MAPK8","PIK3R1"]},
            "y": {"field": "t", "type": "nominal", "sort": ["liver","skeletalmuscle","ovary","adipose","heart","kidney","spleen","hypothalamus","teste","lung","colon","def"]},
            "color": {"field": "v", "type": "ordinal", "legend": null, "scale": {"domain": [0,1,2,3,4,5,6,7,8,9,10], "range": ["#183d74","#3c7cbf","#5aa2cf","#a6cfe4","#d8e8f2","#f7f7f7","#fde0d1","#f3b393","#dd735f","#c0243a","#790a2b"]}},
            "stroke": {"field": "v", "type": "ordinal", "legend": null, "scale": {"domain": [0,1,2,3,4,5,6,7,8,9,10], "range": ["#183d74","#3c7cbf","#5aa2cf","#a6cfe4","#d8e8f2","#f7f7f7","#fde0d1","#f3b393","#dd735f","#c0243a","#790a2b"]}}
          }
        }
      ]
    },
    {
      "title": {"text": "B", "offset": 13},
      "spacing": 18,
      "hconcat": [
        {
          "data": {"name": "bar"},
          "width": 20, "height": 250,
          "layer": [
            {
              "mark": {"type": "rect", "strokeWidth": 1},
              "encoding": {
                "x": {"datum": "colorbar", "type": "nominal", "axis": null, "scale": {"paddingInner": 0, "paddingOuter": 0, "align": 1}},
                "y": {"field": "v", "type": "ordinal", "sort": "descending", "axis": null},
                "color": {"field": "v", "type": "ordinal", "legend": null, "scale": {"domain": [0,1,2,3,4,5,6,7,8,9,10], "range": ["#183d74","#3c7cbf","#5aa2cf","#a6cfe4","#d8e8f2","#f7f7f7","#fde0d1","#f3b393","#dd735f","#c0243a","#790a2b"]}},
                "stroke": {"field": "v", "type": "ordinal", "legend": null, "scale": {"domain": [0,1,2,3,4,5,6,7,8,9,10], "range": ["#183d74","#3c7cbf","#5aa2cf","#a6cfe4","#d8e8f2","#f7f7f7","#fde0d1","#f3b393","#dd735f","#c0243a","#790a2b"]}}
              }
            },
            {
              "mark": {"type": "rect", "fillOpacity": 0, "stroke": "#111", "strokeWidth": 1},
              "encoding": {
                "x": {"datum": "colorbar", "type": "nominal", "axis": null}
              }
            }
          ]
        },
        {
          "data": {"name": "b"},
          "width": 553, "height": 250,
          "view": {"stroke": "#222", "strokeWidth": 0.8},
          "mark": {"type": "rect", "strokeWidth": 1},
          "encoding": {
            "x": {"field": "g", "type": "nominal", "sort": ["MAPK1","SRC","HRAS","RALB","CBL","PLD1","ASAP1","PIK3R1","RPS6KA3","IQSEC1","CDC42","SH3KBP1","PLCG1","USP8","PRKCA","RAP1A","GAB1","JUND","STAT3","STAT1","MAP2K2","JUN","SOS1","GRB2","RAF1","EGFR"]},
            "y": {"field": "t", "type": "nominal", "sort": ["teste","hypothalamus","skeletalmuscle","heart","kidney","lung","ovary","adipose","spleen","liver","colon","def"], "axis": {"labelPadding": 3}},
            "color": {"field": "v", "type": "ordinal", "legend": null, "scale": {"domain": [0,1,2,3,4,5,6,7,8,9,10], "range": ["#183d74","#3c7cbf","#5aa2cf","#a6cfe4","#d8e8f2","#f7f7f7","#fde0d1","#f3b393","#dd735f","#c0243a","#790a2b"]}},
            "stroke": {"field": "v", "type": "ordinal", "legend": null, "scale": {"domain": [0,1,2,3,4,5,6,7,8,9,10], "range": ["#183d74","#3c7cbf","#5aa2cf","#a6cfe4","#d8e8f2","#f7f7f7","#fde0d1","#f3b393","#dd735f","#c0243a","#790a2b"]}}
          }
        }
      ]
    },
    {
      "title": {"text": "C", "offset": 19},
      "spacing": 21,
      "hconcat": [
        {
          "data": {"name": "bar"},
          "width": 108, "height": 257,
          "layer": [
            {
              "mark": {"type": "rect", "strokeWidth": 1},
              "encoding": {
                "x": {"datum": "colorbar", "type": "nominal", "axis": null, "scale": {"paddingInner": 0.5455, "paddingOuter": 1, "align": 1}},
                "y": {"field": "v", "type": "ordinal", "sort": "descending", "axis": null},
                "color": {"field": "v", "type": "ordinal", "legend": null, "scale": {"domain": [0,1,2,3,4,5,6,7,8,9,10], "range": ["#183d74","#3c7cbf","#5aa2cf","#a6cfe4","#d8e8f2","#f7f7f7","#fde0d1","#f3b393","#dd735f","#c0243a","#790a2b"]}},
                "stroke": {"field": "v", "type": "ordinal", "legend": null, "scale": {"domain": [0,1,2,3,4,5,6,7,8,9,10], "range": ["#183d74","#3c7cbf","#5aa2cf","#a6cfe4","#d8e8f2","#f7f7f7","#fde0d1","#f3b393","#dd735f","#c0243a","#790a2b"]}}
              }
            },
            {
              "mark": {"type": "rect", "fillOpacity": 0, "stroke": "#111", "strokeWidth": 1},
              "encoding": {
                "x": {"datum": "colorbar", "type": "nominal", "axis": null}
              }
            }
          ]
        },
        {
          "data": {"name": "c"},
          "width": 327, "height": 257,
          "view": {"stroke": "#222", "strokeWidth": 0.8},
          "mark": {"type": "rect", "strokeWidth": 1},
          "encoding": {
            "x": {"field": "g", "type": "nominal", "sort": ["RAF1-HRAS","SOS1-KRAS","MAPK1-MAP2K2","SRC-PLCG1","SRC-GAB2","ASAP1-ARF6","RAP1A-RALB","MAPK3-MAPK1","SRC-NCOA3","REPS2-GRB2","RAF1-MAP2K1","SOS1-GRB2"]},
            "y": {"field": "t", "type": "nominal", "sort": ["skeletalmuscle","adipose","teste","ovary","hypothalamus","colon","liver","lung","kidney","heart","spleen","def"]},
            "color": {"field": "v", "type": "ordinal", "legend": null, "scale": {"domain": [0,1,2,3,4,5,6,7,8,9,10], "range": ["#183d74","#3c7cbf","#5aa2cf","#a6cfe4","#d8e8f2","#f7f7f7","#fde0d1","#f3b393","#dd735f","#c0243a","#790a2b"]}},
            "stroke": {"field": "v", "type": "ordinal", "legend": null, "scale": {"domain": [0,1,2,3,4,5,6,7,8,9,10], "range": ["#183d74","#3c7cbf","#5aa2cf","#a6cfe4","#d8e8f2","#f7f7f7","#fde0d1","#f3b393","#dd735f","#c0243a","#790a2b"]}}
          }
        }
      ]
    }
  ]
}
